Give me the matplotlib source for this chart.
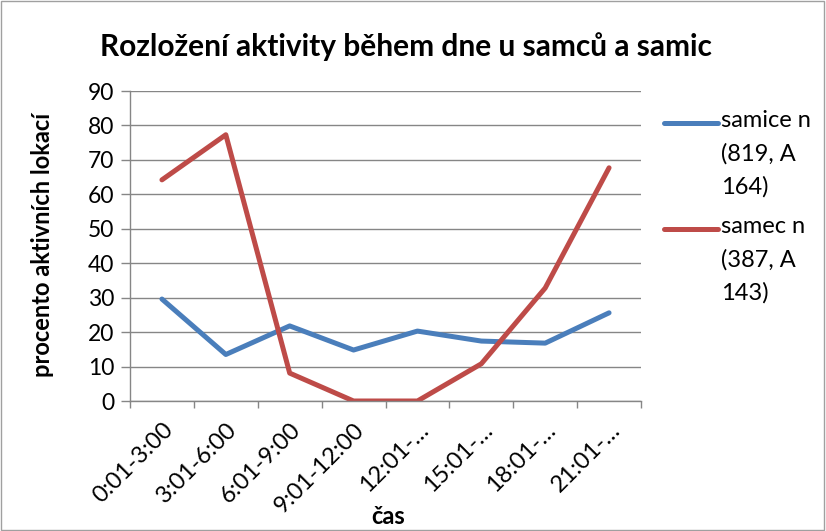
import matplotlib.pyplot as plt
import numpy as np
from matplotlib.patches import Rectangle
from matplotlib.lines import Line2D

plt.rcParams['font.family'] = ['Lato', 'DejaVu Sans']

categories = ["0:01-3:00", "3:01-6:00", "6:01-9:00", "9:01-12:00",
              "12:01-…", "15:01-…", "18:01-…", "21:01-…"]
samice = [29.6, 13.5, 21.8, 14.8, 20.3, 17.4, 16.8, 25.6]
samec = [64.2, 77.3, 8.1, 0.0, 0.0, 10.8, 32.8, 67.7]
labels = ["samice n\n(819, A\n164)", "samec n\n(387, A\n143)"]

blue = '#4a7ebb'
red = '#be4b48'
grid_gray = '#868686'

W, H = 826, 531
fig = plt.figure(figsize=(W / 100, H / 100), dpi=100)
ax = fig.add_axes([130 / W, 1 - 401 / H, 511 / W, 310 / H])

x = np.arange(len(categories))
ax.plot(x, samice, color=blue, lw=3.6, solid_capstyle='round')
ax.plot(x, samec, color=red, lw=3.6, solid_capstyle='round')

ax.set_xlim(-0.5, len(categories) - 0.5)
ax.set_ylim(0, 90)
ax.set_yticks(np.arange(0, 91, 10))
ax.yaxis.grid(True, color=grid_gray, lw=1)
ax.set_axisbelow(True)

# category ticks sit between the groups, labels at the centres
ax.set_xticks(np.arange(-0.5, len(categories), 1.0))
ax.set_xticklabels([])
ax.set_xticks(x, minor=True)
ax.set_xticklabels(categories, minor=True, rotation=45, ha='right',
                   va='top', rotation_mode='anchor', fontsize=17)
ax.tick_params(axis='x', which='minor', length=0, pad=13)
ax.tick_params(axis='x', which='major', length=5, color=grid_gray, width=1)
ax.tick_params(axis='y', length=6.5, color=grid_gray, width=1, labelsize=16.5, pad=5)

for side in ['top', 'right']:
    ax.spines[side].set_visible(False)
for side in ['left', 'bottom']:
    ax.spines[side].set_color(grid_gray)
    ax.spines[side].set_linewidth(1)

fig.text(43 / W, 1 - 245 / H, 'procento aktivních lokací', rotation=90,
         ha='center', va='center', fontsize=17, fontweight='bold')
fig.text(388 / W, 1 - 516 / H, 'čas', ha='center', va='center',
         fontsize=17, fontweight='bold')
fig.text(406 / W, 1 - 47 / H, 'Rozložení aktivity během dne u samců a samic',
         ha='center', va='center', fontsize=21.5, fontweight='bold')

# legend: handle lines aligned with the first text row
for (ypix, color, text) in [(123, blue, labels[0]), (229, red, labels[1])]:
    fy = 1 - ypix / H
    fig.add_artist(Line2D([664 / W, 718 / W], [fy, fy], color=color, lw=3.6,
                          solid_capstyle='round', transform=fig.transFigure))
    fig.text(721 / W, fy + 13 / H, text, ha='left', va='top', fontsize=17,
             linespacing=1.68)

fig.patches.append(Rectangle((0.001, 0.001), 0.997, 0.997, transform=fig.transFigure,
                             fill=False, edgecolor='#a0a0a0', lw=1))

fig.savefig('out.png', dpi=100)
